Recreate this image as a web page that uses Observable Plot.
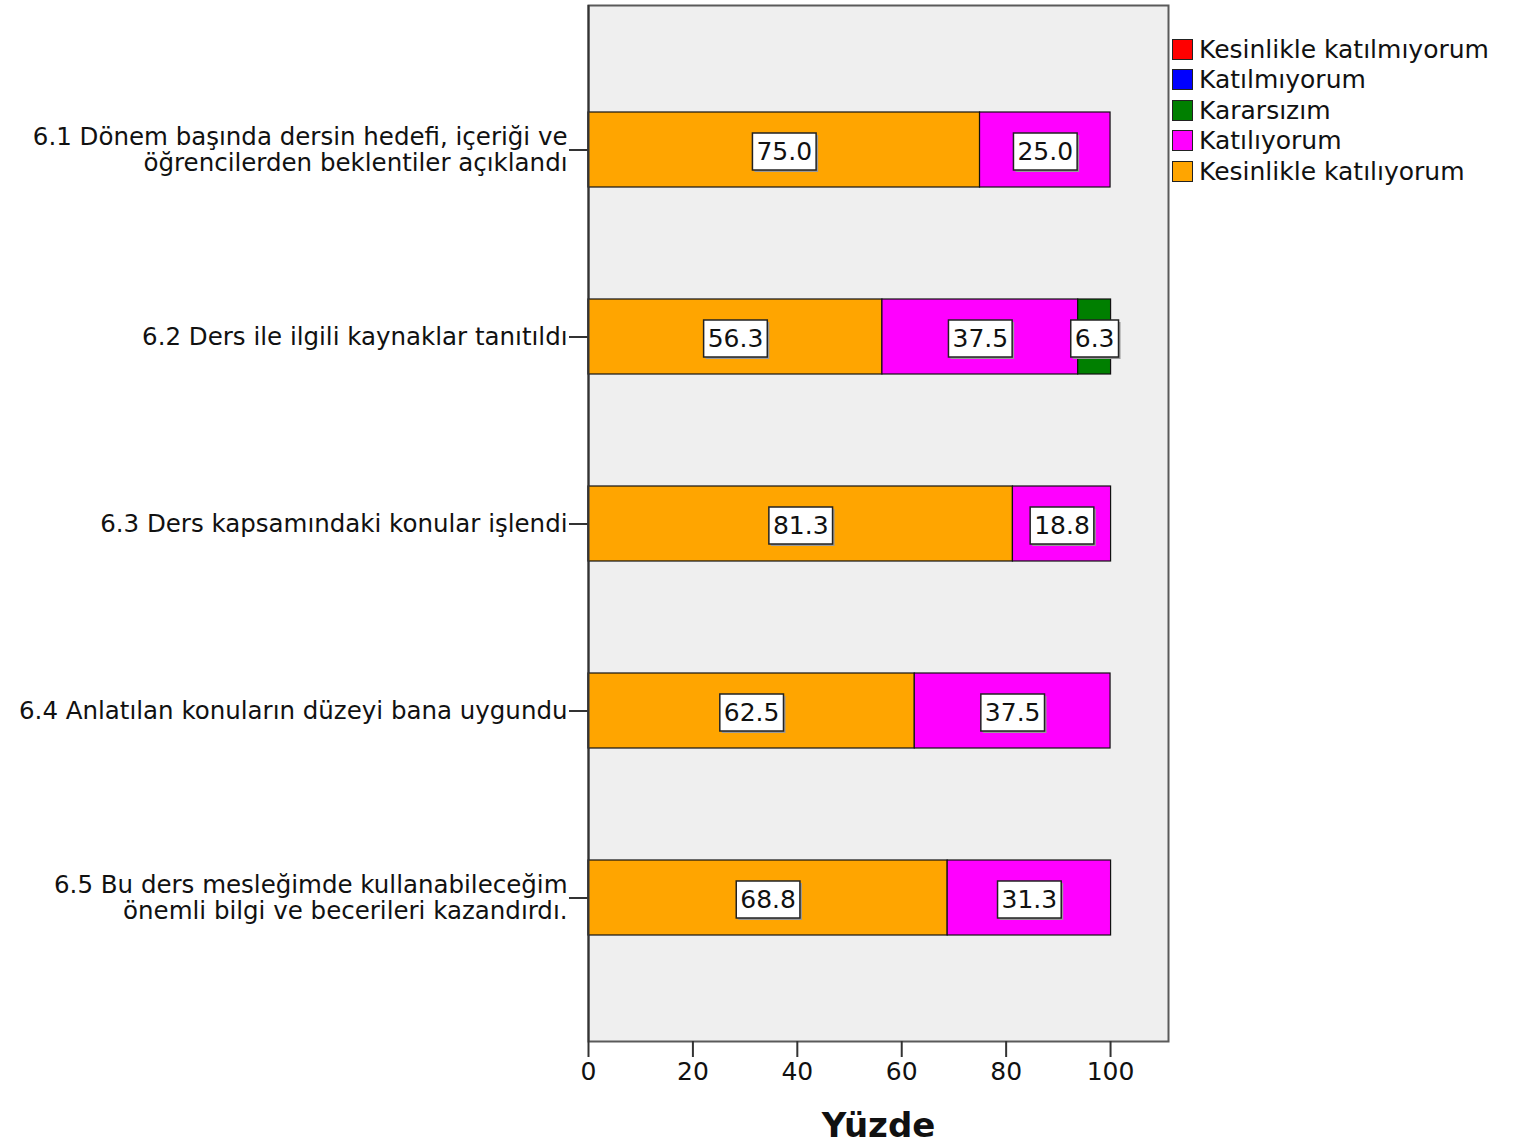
<!DOCTYPE html>
<html>
<head>
<meta charset="utf-8">
<script src="https://cdn.jsdelivr.net/npm/d3@7"></script>
<script src="https://cdn.jsdelivr.net/npm/@observablehq/plot@0.6"></script>
<style>
  html, body { margin: 0; padding: 0; background: #fff; }
  #wrap { position: relative; width: 1515px; height: 1146px; font-family: "DejaVu Sans", sans-serif; color: #111; }
  #legend { position: absolute; left: 1172px; top: 34px; }
  .lg-row { display: flex; align-items: center; height: 30.5px; font-size: 25px; }
  .lg-sw { width: 19px; height: 19px; border: 1.5px solid #222; margin-right: 6px; box-sizing: content-box; }
</style>
</head>
<body>
<div id="wrap"><div id="chart"></div><div id="legend"></div></div>
<script>
const categories = ["6.1", "6.2", "6.3", "6.4", "6.5"];
const categoryLabels = [
  "6.1 Dönem başında dersin hedefi, içeriği ve\nöğrencilerden beklentiler açıklandı",
  "6.2 Ders ile ilgili kaynaklar tanıtıldı",
  "6.3 Ders kapsamındaki konular işlendi",
  "6.4 Anlatılan konuların düzeyi bana uygundu",
  "6.5 Bu ders mesleğimde kullanabileceğim\nönemli bilgi ve becerileri kazandırdı."
];
const seriesNames = ["Kesinlikle katılmıyorum", "Katılmıyorum", "Kararsızım", "Katılıyorum", "Kesinlikle katılıyorum"];
const seriesColors = ["#ff0000", "#0000ff", "#007f00", "#ff00ff", "#ffa500"];
const kesinlikleKatilmiyorum = [0, 0, 0, 0, 0];
const katilmiyorum = [0, 0, 0, 0, 0];
const kararsizim = [0, 6.3, 0, 0, 0];
const katiliyorum = [25.0, 37.5, 18.8, 37.5, 31.3];
const kesinlikleKatiliyorum = [75.0, 56.3, 81.3, 62.5, 68.8];
const xTicks = [0, 20, 40, 60, 80, 100];
const xTitle = "Yüzde";

// stacking order from left: Kesinlikle katılıyorum, Katılıyorum, Kararsızım, Katılmıyorum, Kesinlikle katılmıyorum
const stackOrder = [
  ["Kesinlikle katılıyorum", kesinlikleKatiliyorum],
  ["Katılıyorum", katiliyorum],
  ["Kararsızım", kararsizim],
  ["Katılmıyorum", katilmiyorum],
  ["Kesinlikle katılmıyorum", kesinlikleKatilmiyorum]
];
const rows = [];
categories.forEach((c, i) => {
  stackOrder.forEach(([s, arr]) => {
    if (arr[i] > 0) rows.push({cat: c, series: s, value: arr[i]});
  });
});
const labelOf = Object.fromEntries(categories.map((c, i) => [c, categoryLabels[i]]));

const chart = Plot.plot({
  width: 1515,
  height: 1146,
  marginLeft: 588,
  marginRight: 347,
  marginTop: 5,
  marginBottom: 105,
  style: {fontFamily: "DejaVu Sans, sans-serif", color: "#111", background: "transparent"},
  x: {domain: [0, 111.1], ticks: xTicks},
  y: {domain: categories, paddingInner: 0.6, paddingOuter: 0.57},
  color: {domain: seriesNames, range: seriesColors},
  marks: [
    Plot.frame({fill: "#efefef", stroke: "#5a5a5a", strokeWidth: 2}),
    Plot.barX(rows, Plot.stackX({x: "value", y: "cat", z: "series", fill: "series", stroke: "#111", strokeWidth: 1.2})),
    Plot.text(rows, Plot.stackX({x: "value", y: "cat", z: "series", text: d => d.value.toFixed(1), fontSize: 25, fill: "#111", dy: 2})),
    Plot.ruleX([0], {stroke: "#333", strokeWidth: 2}),
    Plot.ruleY([0], {frameAnchor: "bottom", stroke: "#333", strokeWidth: 2}),
    Plot.axisY({tickSize: 19, tickPadding: 2, fontSize: 24.5, lineHeight: 1.06, tickFormat: d => labelOf[d], label: null, stroke: "#333", strokeWidth: 2}),
    Plot.axisX({ticks: xTicks, tickSize: 16, tickPadding: 5, fontSize: 25, label: null, stroke: "#333", strokeWidth: 2}),
    Plot.text([xTitle], {frameAnchor: "bottom", dy: 85, text: d => d, fontSize: 34, fontWeight: "bold", fill: "#111", lineAnchor: "middle"})
  ]
});
document.getElementById("chart").append(chart);

// white boxes behind value labels
d3.select(chart).selectAll('g[aria-label="text"] text').each(function() {
  if (this.textContent === xTitle) return;
  const b = this.getBBox();
  const padX = 4, padY = 4;
  const g = this.parentNode;
  const t = this.getAttribute("transform");
  const shadow = document.createElementNS("http://www.w3.org/2000/svg", "rect");
  const r = document.createElementNS("http://www.w3.org/2000/svg", "rect");
  for (const [el, dx, fill, stroke] of [[shadow, 2, "#999", "none"], [r, 0, "#fff", "#222"]]) {
    el.setAttribute("x", b.x - padX + dx);
    el.setAttribute("y", b.y - padY + dx);
    el.setAttribute("width", b.width + 2 * padX);
    el.setAttribute("height", b.height + 2 * padY);
    el.setAttribute("fill", fill);
    el.setAttribute("stroke", stroke);
    el.setAttribute("stroke-width", 1.5);
    if (t) el.setAttribute("transform", t);
    g.insertBefore(el, this);
  }
});

// legend
const legend = d3.select("#legend");
seriesNames.forEach((s, i) => {
  const row = legend.append("div").attr("class", "lg-row");
  row.append("div").attr("class", "lg-sw").style("background", seriesColors[i]);
  row.append("span").text(s);
});
</script>
</body>
</html>
